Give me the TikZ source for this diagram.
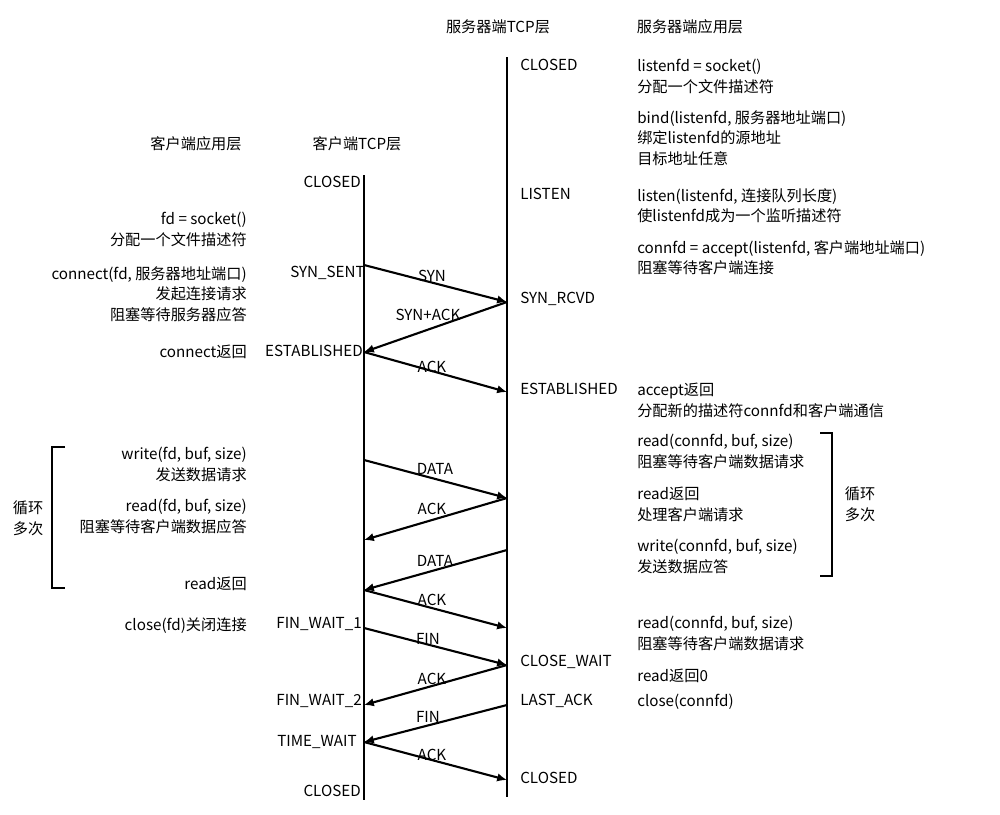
\documentclass[tikz,border=0pt]{standalone}
\usepackage{fontspec}
\setmainfont{Noto Sans CJK SC}
\begin{document}
\begin{tikzpicture}[x=0.025cm,y=-0.025cm,
  txt/.style={font=\fontsize{10.8}{14.8}\selectfont, inner sep=0pt, align=left},
  rt/.style={txt, anchor=north east, align=right},
  lt/.style={txt, anchor=north west},
  life/.style={line width=1.8pt},
  msg/.style={line width=1.5pt,-{Latex[length=7pt,width=6pt]}},
  ml/.style={txt, anchor=south}]
\useasboundingbox (0,0) rectangle (1000,815);
\usetikzlibrary{arrows.meta}
\coordinate (c0) at (364,175); \coordinate (c1) at (364,800);
\coordinate (s0) at (507,57); \coordinate (s1) at (507,797);
\draw[life] (c0)--(c1); \draw[life] (s0)--(s1);
\node[txt,anchor=north] (h1) at (498,19) {服务器端TCP层};
\node[txt,anchor=north] (h2) at (690,19) {服务器端应用层};
\node[txt,anchor=north] (h3) at (196,136) {客户端应用层};
\node[txt,anchor=north] (h4) at (357,136) {客户端TCP层};
\foreach \n/\x/\y in {a/364/265,b/507/302,c/364/352,d/507/392,e/364/460,f/507/498,g/364/540,h/507/550,i/364/590,j/507/628,k/364/628,l/507/665,m/364/705,n/507/705,o/364/742,p/507/780}
  \coordinate (\n) at (\x,\y);
\draw[msg] (a)--(b); \draw[msg] (b)--(c); \draw[msg] (c)--(d);
\draw[msg] (e)--(f); \draw[msg] (f)--(g); \draw[msg] (h)--(i); \draw[msg] (i)--(j);
\draw[msg] (k)--(l); \draw[msg] (l)--(m); \draw[msg] (n)--(o); \draw[msg] (o)--(p);
\node[ml] (l1) at (432,282) {SYN};
\node[ml] (l2) at (428,321) {SYN+ACK};
\node[ml] (l3) at (432,373) {ACK};
\node[ml] (l4) at (435,475) {DATA};
\node[ml] (l5) at (432,515) {ACK};
\node[ml] (l6) at (435,567) {DATA};
\node[ml] (l7) at (432,606) {ACK};
\node[ml] (l8) at (428,645) {FIN};
\node[ml] (l9) at (432,685) {ACK};
\node[ml] (l10) at (428,723) {FIN};
\node[ml] (l11) at (432,761) {ACK};
\node[rt] (cs1) at (361,176) {CLOSED};
\node[rt] (cs2) at (365,266) {SYN\_SENT};
\node[rt] (cs3) at (363,345) {ESTABLISHED};
\node[rt] (cs4) at (362,617) {FIN\_WAIT\_1};
\node[rt] (cs5) at (362,694) {FIN\_WAIT\_2};
\node[rt] (cs6) at (357,735) {TIME\_WAIT};
\node[rt] (cs7) at (361,785) {CLOSED};
\node[lt] (ss1) at (520,59) {CLOSED};
\node[lt] (ss2) at (520,188) {LISTEN};
\node[lt] (ss3) at (520,292) {SYN\_RCVD};
\node[lt] (ss4) at (520,383) {ESTABLISHED};
\node[lt] (ss5) at (520,655) {CLOSE\_WAIT};
\node[lt] (ss6) at (520,694) {LAST\_ACK};
\node[lt] (ss7) at (520,772) {CLOSED};
\node[rt] (ca1) at (247,212) {fd = socket()\\分配一个文件描述符};
\node[rt] (ca2) at (247,266) {connect(fd, 服务器地址端口)\\发起连接请求\\阻塞等待服务器应答};
\node[rt] (ca3) at (247,345) {connect返回};
\node[rt] (ca4) at (247,447) {write(fd, buf, size)\\发送数据请求};
\node[rt] (ca5) at (247,499) {read(fd, buf, size)\\阻塞等待客户端数据应答};
\node[rt] (ca6) at (247,577) {read返回};
\node[rt] (ca7) at (247,617) {close(fd)关闭连接};
\node[txt,anchor=center,align=center] (loopl) at (28,518) {循环\\多次};
\draw[line width=1pt] (65,447) -- (52,447) -- (52,588) -- (65,588);
\node[lt] (sa1) at (637,59) {listenfd = socket()\\分配一个文件描述符};
\node[lt] (sa2) at (637,110) {bind(listenfd, 服务器地址端口)\\绑定listenfd的源地址\\目标地址任意};
\node[lt] (sa3) at (637,188) {listen(listenfd, 连接队列长度)\\使listenfd成为一个监听描述符};
\node[lt] (sa4) at (637,240) {connfd = accept(listenfd, 客户端地址端口)\\阻塞等待客户端连接};
\node[lt] (sa5) at (637,383) {accept返回\\分配新的描述符connfd和客户端通信};
\node[lt] (sa6) at (637,434) {read(connfd, buf, size)\\阻塞等待客户端数据请求};
\node[lt] (sa7) at (637,487) {read返回\\处理客户端请求};
\node[lt] (sa8) at (637,539) {write(connfd, buf, size)\\发送数据应答};
\node[lt] (sa9) at (637,616) {read(connfd, buf, size)\\阻塞等待客户端数据请求};
\node[lt] (sa10) at (637,669) {read返回0};
\node[lt] (sa11) at (637,694) {close(connfd)};
\node[txt,anchor=center,align=center] (loopr) at (860,504) {循环\\多次};
\draw[line width=1pt] (820,433) -- (832,433) -- (832,576) -- (820,576);
\end{tikzpicture}
\end{document}
